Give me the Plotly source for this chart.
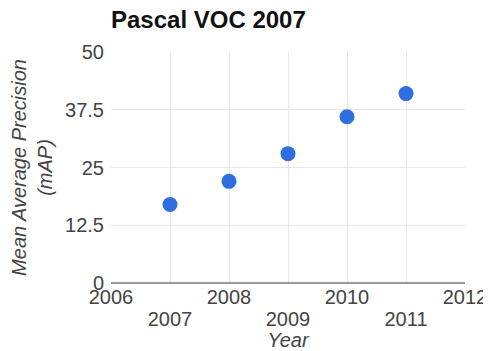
import plotly.graph_objects as go

years = [2007, 2008, 2009, 2010, 2011]
map_values = [17, 22, 28, 36, 41]
x_even_ticks = [2006, 2008, 2010, 2012]
x_odd_ticks = [2007, 2009, 2011]
y_ticks = [0, 12.5, 25, 37.5, 50]
y_tick_labels = ["0", "12.5", "25", "37.5", "50"]

all_years = list(range(2006, 2013))
main_text = [str(v) if v in x_even_ticks else "" for v in all_years]

FONT = "Liberation Sans, Arial, sans-serif"

# page body has an 8px margin, so the figure is slightly smaller than the window
W, H = 483, 343

fig = go.Figure()
fig.add_trace(go.Scatter(
    x=years, y=map_values, mode="markers",
    marker=dict(size=15, color="#2f6ee0"),
    showlegend=False, xaxis="x", yaxis="y",
))
fig.add_trace(go.Scatter(
    x=years, y=map_values, mode="markers",
    marker=dict(size=1, opacity=0),
    showlegend=False, hoverinfo="skip", xaxis="x2", yaxis="y",
))

fig.update_layout(
    width=W, height=H,
    margin=dict(l=103, r=26, t=44, b=68, autoexpand=False),
    paper_bgcolor="white", plot_bgcolor="white",
    font=dict(family=FONT, size=20, color="#444"),
    title=dict(text="<b>Pascal VOC 2007</b>", font=dict(size=24, color="#111", family=FONT),
               x=103/W, xanchor="left", xref="container",
               y=1 - 12/H, yanchor="middle", yref="container", pad=dict(l=0, r=0, t=0, b=0)),
    xaxis=dict(range=[2006, 2012], tickmode="array", tickvals=all_years, ticktext=main_text,
               showgrid=True, gridcolor="#e8e8e8", gridwidth=1, zeroline=False, automargin=False,
               showline=False, ticks="", tickfont=dict(size=20, color="#444")),
    xaxis2=dict(range=[2006, 2012], overlaying="x", side="bottom", anchor="y", automargin=False,
                tickmode="array", tickvals=x_odd_ticks, ticktext=[str(v) for v in x_odd_ticks],
                showgrid=False, zeroline=False, showline=False, ticks="",
                ticklabelstandoff=22, tickfont=dict(size=20, color="#444"),
                title=dict(text="<i>Year</i>", font=dict(size=20, color="#444"))),
    yaxis=dict(range=[0, 50], tickmode="array", tickvals=y_ticks, ticktext=y_tick_labels,
               showgrid=True, gridcolor="#e8e8e8", gridwidth=1, automargin=False,
               zeroline=True, zerolinecolor="#999", zerolinewidth=1.5,
               showline=False, ticks="", ticklabelstandoff=6, tickfont=dict(size=20, color="#444"),
               title=dict(text="<i>Mean Average Precision<br>(mAP)</i>",
                          font=dict(size=20, color="#444"))),
)

fig.write_html("out.html")
